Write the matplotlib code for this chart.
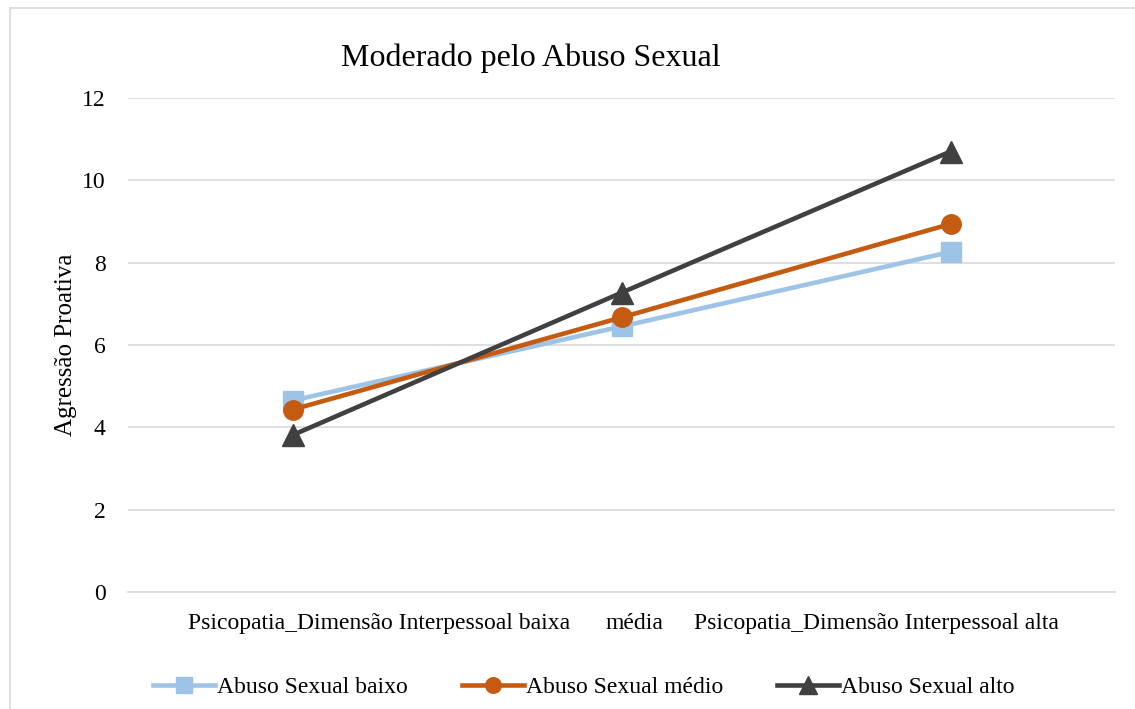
import matplotlib.pyplot as plt
from matplotlib.patches import Rectangle
from matplotlib.transforms import ScaledTranslation

plt.rcParams['font.family'] = ['Liberation Serif', 'DejaVu Serif']

categories = ['Psicopatia_Dimensão Interpessoal baixa', 'média',
              'Psicopatia_Dimensão Interpessoal alta']
baixo = [4.65, 6.45, 8.26]
medio = [4.43, 6.67, 8.94]
alto = [3.81, 7.27, 10.70]
series_names = ['Abuso Sexual baixo', 'Abuso Sexual médio', 'Abuso Sexual alto']

W, H = 1135, 709
fig = plt.figure(figsize=(W / 100, H / 100), dpi=100)
ax = fig.add_axes([128 / W, 1 - 592 / H, (1115 - 128) / W, (592 - 98) / H])

# chart border (Excel style), right and bottom edges fall outside the image
fig.patches.append(Rectangle((10 / W, -0.05), 1.0, 1.05 - 8 / H,
                             transform=fig.transFigure, fill=False,
                             edgecolor='#d9d9d9', linewidth=1.2))

x = range(len(categories))
ax.plot(x, baixo, color='#9dc3e6', linewidth=3.3, marker='s', markersize=14,
        label=series_names[0], zorder=3)
ax.plot(x, medio, color='#c55a11', linewidth=3.3, marker='o', markersize=14,
        label=series_names[1], zorder=4)
ax.plot(x, alto, color='#404040', linewidth=3.3, marker='^', markersize=16,
        label=series_names[2], zorder=5)

ax.set_xlim(-0.5, 2.5)
ax.set_ylim(0, 12)
ax.set_yticks(range(0, 13, 2))
ax.set_xticks(list(x))
ax.set_xticklabels(categories)
ax.tick_params(axis='both', length=0, labelsize=17)
ax.tick_params(axis='x', pad=15)
ax.tick_params(axis='y', pad=16)
# Excel packs the long category labels toward the middle
for lab, dx in zip(ax.get_xticklabels(), [87, 13, -74]):
    lab.set_transform(lab.get_transform() + ScaledTranslation(dx / 100, 0, fig.dpi_scale_trans))
ax.grid(axis='y', color='#d9d9d9', linewidth=1.2)
ax.set_axisbelow(True)
for s in ['top', 'right', 'left']:
    ax.spines[s].set_visible(False)
ax.spines['bottom'].set_color('#d9d9d9')
ax.spines['bottom'].set_linewidth(1.2)

ax.set_ylabel('Agressão Proativa', fontsize=18, labelpad=4)
fig.text(531 / W, 1 - 58 / H, 'Moderado pelo Abuso Sexual', fontsize=23,
         ha='center', va='center')

fig.legend(loc='center', bbox_to_anchor=(584 / W, 1 - 687 / H), ncol=3,
           frameon=False, fontsize=17, handlelength=2.6, handletextpad=0.1,
           columnspacing=2.3, markerscale=0.8)

fig.savefig('out.png', dpi=100)
